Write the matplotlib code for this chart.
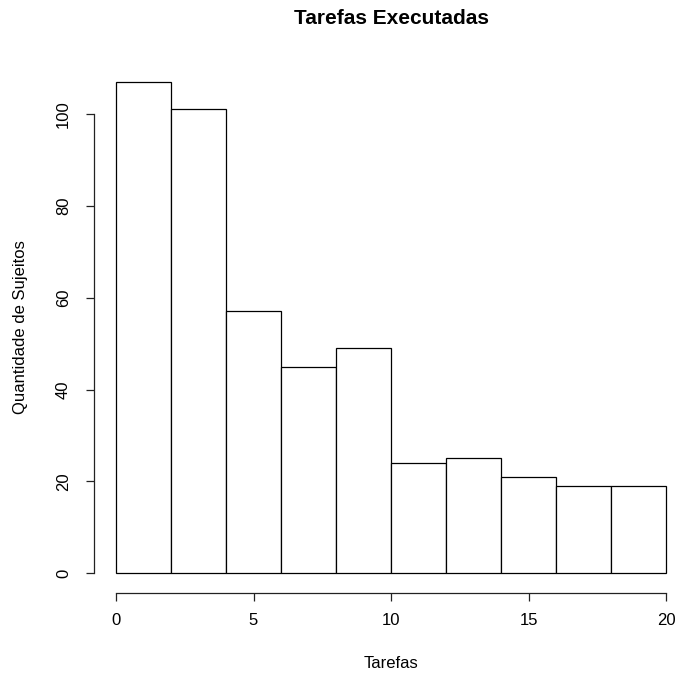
import numpy as np
import matplotlib
matplotlib.use("Agg")
import matplotlib.pyplot as plt

# histogram data (R-style hist)
bin_edges = [0, 2, 4, 6, 8, 10, 12, 14, 16, 18, 20]
counts = [107, 101, 57, 45, 49, 24, 25, 21, 19, 19]
x_ticks = [0, 5, 10, 15, 20]
y_ticks = [0, 20, 40, 60, 80, 100]

plt.rcParams['font.family'] = ['Liberation Sans', 'DejaVu Sans']

DPI = 100
fig = plt.figure(figsize=(6.78, 6.77), dpi=DPI)
W, H = 678, 677

# plot region in pixels (R keeps a 4% margin around data range)
left, right, top, bottom = 94, 688, 62, 593
ax = fig.add_axes([left / W, 1 - bottom / H, (right - left) / W, (bottom - top) / H])

edges = np.array(bin_edges)
widths = np.diff(edges)
ax.bar(edges[:-1], counts, width=widths, align='edge',
       facecolor='white', edgecolor='black', linewidth=0.9)

xr = edges[-1] - edges[0]
ax.set_xlim(edges[0] - 0.04 * xr, edges[-1] + 0.04 * xr)
ymax = max(counts)
ax.set_ylim(-0.04 * ymax, ymax * 1.04)

for s in ['top', 'right']:
    ax.spines[s].set_visible(False)
ax.spines['bottom'].set_bounds(x_ticks[0], x_ticks[-1])
ax.spines['left'].set_bounds(y_ticks[0], y_ticks[-1])
for s in ['bottom', 'left']:
    ax.spines[s].set_linewidth(0.9)
    ax.spines[s].set_color('#222222')

ax.set_xticks(x_ticks)
ax.set_yticks(y_ticks)
ax.tick_params(axis='both', direction='out', length=5.5, width=0.9,
               color='#222222', labelsize=12)
ax.tick_params(axis='x', pad=9)
ax.tick_params(axis='y', pad=11)
ax.set_yticklabels([str(v) for v in y_ticks], rotation=90, va='center')

ax.set_xlabel('Tarefas', fontsize=12, labelpad=20)
ax.set_ylabel('Quantidade de Sujeitos', fontsize=12, labelpad=20)
fig.text((left + right) / 2 / W, 1 - 19 / H, 'Tarefas Executadas',
         ha='center', va='center', fontsize=15, fontweight='bold')

fig.savefig('out.png', dpi=DPI)
